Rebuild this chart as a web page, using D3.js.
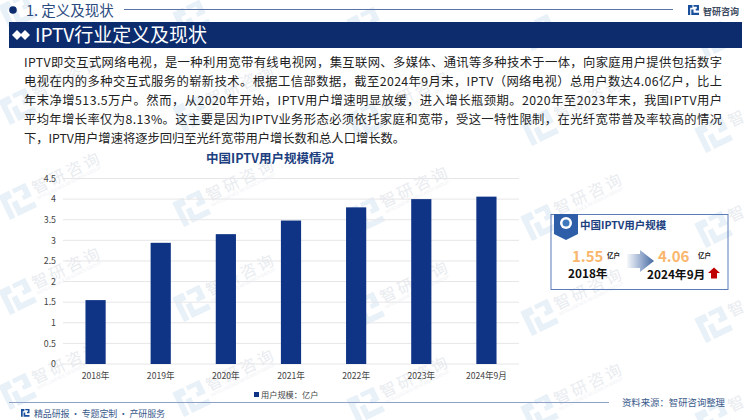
<!DOCTYPE html>
<html>
<head>
<meta charset="utf-8">
<script src="https://cdn.jsdelivr.net/npm/d3@7"></script>
<style>
  html, body { margin: 0; padding: 0; background: #fff; }
  text { font-family: "Noto Sans CJK SC", "Noto Sans", sans-serif; }
</style>
</head>
<body>
<div id="chart"></div>
<script>
const categories = ['2018年', '2019年', '2020年', '2021年', '2022年', '2023年', '2024年9月'];
const users = [1.55, 2.94, 3.15, 3.48, 3.80, 4.00, 4.06];
const yTicks = [0, 0.5, 1, 1.5, 2, 2.5, 3, 3.5, 4, 4.5];
const bodyLines = [
  'IPTV即交互式网络电视，是一种利用宽带有线电视网，集互联网、多媒体、通讯等多种技术于一体，向家庭用户提供包括数字',
  '电视在内的多种交互式服务的崭新技术。根据工信部数据，截至2024年9月末，IPTV（网络电视）总用户数达4.06亿户，比上',
  '年末净增513.5万户。然而，从2020年开始，IPTV用户增速明显放缓，进入增长瓶颈期。2020年至2023年末，我国IPTV用户',
  '平均年增长率仅为8.13%。这主要是因为IPTV业务形态必须依托家庭和宽带，受这一特性限制，在光纤宽带普及率较高的情况',
  '下，IPTV用户增速将逐步回归至光纤宽带用户增长数和总人口增长数。'
];
const bodyWidths = [698, 698, 698, 698, 381];

const navy = '#0c2c6e';
const barBlue = '#0f3485';

const svg = d3.select('#chart').append('svg')
    .attr('width', 750)
    .attr('height', 420)
    .style('display', 'block');

const defs = svg.append('defs');
const arrowGrad = defs.append('linearGradient').attr('id', 'arrowGrad');
arrowGrad.append('stop').attr('offset', '0%').attr('stop-color', '#4a6fae').attr('stop-opacity', 0.05);
arrowGrad.append('stop').attr('offset', '100%').attr('stop-color', '#44689f');

// logo mark used by header, footer and watermark
function logo(g, s, color) {
  g.append('path')
      .attr('d', `M0 0H${4*s}V${2.6*s}H${2*s}V${9*s}H0Z M${5*s} 0H${10*s}V${5*s}H${7*s}V${3.4*s}H${8*s}V${1.6*s}H${5*s}Z M${3*s} ${4*s}H${5*s}V${7*s}H${10*s}V${9*s}H${3*s}Z`)
      .attr('fill', color);
}

// watermark, repeated on a slanted grid
const wm = svg.append('g').attr('class', 'watermark');
d3.range(5).forEach(r => d3.range(5).forEach(c => {
  const w = wm.append('g')
      .attr('transform', `translate(${17 + 174 * c},${10 + 95 * r + 7 * c}) rotate(-26)`);
  logo(w.append('g').attr('transform', 'translate(-15,-12)'), 3, '#e9f1f8');
  if (r === 0) return;   // top row runs off the page, only the logo shows
  w.append('text').attr('x', 19).attr('y', 3)
      .attr('font-size', 16).attr('letter-spacing', 3).attr('fill', '#e9ecf0')
      .text(c === 4 ? '智' : '智研咨询');
  if (c < 4) {
    w.append('text').attr('x', 19).attr('y', 9)
        .attr('font-size', 4.5).attr('fill', '#eef0f3').text('INTELLIGENCE RESEARCH GROUP');
  }
}));

// header
svg.append('circle').attr('cx', 13).attr('cy', 10).attr('r', 3.8).attr('fill', navy);
svg.append('text').attr('x', 26).attr('y', 16).attr('font-size', 14.5).attr('fill', '#2a4a80').text('1. 定义及现状');
svg.append('line').attr('x1', 124).attr('x2', 673).attr('y1', 9.5).attr('y2', 9.5).attr('stroke', '#5a74a8').attr('stroke-width', 1);
logo(svg.append('g').attr('transform', 'translate(688,5)'), 1.1, '#1a4f9c');
svg.append('text').attr('x', 703).attr('y', 14.5).attr('font-size', 9).attr('font-weight', 700).attr('fill', '#3c4a60').text('智研咨询');

// title band
svg.append('rect').attr('x', 9).attr('y', 22).attr('width', 733).attr('height', 26).attr('fill', navy);
svg.append('path').attr('d', 'M12 35l5-5 5 5-5 5Z').attr('fill', '#fff');
svg.append('path').attr('d', 'M20 35l5-5 5 5-5 5Z').attr('fill', '#fff');
svg.append('text').attr('x', 35).attr('y', 42).attr('font-size', 19).attr('textLength', 172).attr('fill', '#fff').text('IPTV行业定义及现状');

// body text
svg.append('g').selectAll('text')
  .data(bodyLines)
  .join('text')
    .attr('x', 24)
    .attr('y', (d, i) => 67 + i * 18.9)
    .attr('font-size', 12.3)
    .attr('fill', '#222')
    .attr('textLength', (d, i) => bodyWidths[i])
    .text(d => d);

// chart title
svg.append('text').attr('x', 270).attr('y', 163).attr('text-anchor', 'middle')
    .attr('font-size', 12.5).attr('font-weight', 700).attr('fill', '#1d3f7f').text('中国IPTV用户规模情况');

// bar chart
const x = d3.scaleBand().domain(categories).range([63, 519]).paddingInner(0.69).paddingOuter(0.345);
const y = d3.scaleLinear().domain([0, 4.5]).range([364, 178.5]);

const yAxis = svg.append('g')
    .attr('transform', 'translate(63,0)')
    .call(d3.axisLeft(y).tickValues(yTicks).tickSize(0).tickPadding(7).tickFormat(d => d));
yAxis.select('.domain').remove();
yAxis.selectAll('text').attr('font-size', 8.8).attr('fill', '#444');

svg.append('g').selectAll('line')
  .data(yTicks)
  .join('line')
    .attr('x1', 63).attr('x2', 519)
    .attr('y1', d => y(d)).attr('y2', d => y(d))
    .attr('stroke', '#e6e6e8').attr('stroke-width', 1);

svg.append('g').selectAll('rect')
  .data(users)
  .join('rect')
    .attr('x', (d, i) => x(categories[i]))
    .attr('y', d => y(d))
    .attr('width', x.bandwidth())
    .attr('height', d => y(0) - y(d))
    .attr('fill', barBlue);

const xAxis = svg.append('g')
    .attr('transform', 'translate(0,364)')
    .call(d3.axisBottom(x).tickSize(0).tickPadding(9));
xAxis.select('.domain').remove();
xAxis.selectAll('text').attr('font-size', 8.6).attr('fill', '#444');

// legend
svg.append('rect').attr('x', 254).attr('y', 392).attr('width', 5).attr('height', 5).attr('fill', barBlue);
svg.append('text').attr('x', 261).attr('y', 398).attr('font-size', 8.2).attr('fill', '#444').text('用户规模：亿户');

// side panel
const panel = svg.append('g');
panel.append('rect').attr('x', 551).attr('y', 214.5).attr('width', 177).attr('height', 75)
    .attr('fill', '#fff').attr('fill-opacity', 0).attr('stroke', '#5a7cb8').attr('stroke-width', 1);
panel.append('path').attr('d', 'M554 214H578V234L566 240L554 234Z').attr('fill', '#2f5ea8');
panel.append('circle').attr('cx', 566).attr('cy', 223).attr('r', 6).attr('fill', '#fff');
panel.append('circle').attr('cx', 566).attr('cy', 223).attr('r', 3.5).attr('fill', '#3f78bd');
panel.append('text').attr('x', 580).attr('y', 229).attr('font-size', 10.5).attr('font-weight', 700).attr('fill', '#1d3f7f').text('中国IPTV用户规模');
panel.append('text').attr('x', 572).attr('y', 262).attr('font-size', 15).attr('font-weight', 700).attr('fill', '#f9b66c').text('1.55');
panel.append('text').attr('x', 607).attr('y', 258).attr('font-size', 6.5).attr('font-weight', 700).attr('fill', '#222').text('亿户');
panel.append('text').attr('x', 568).attr('y', 278).attr('font-size', 11.8).attr('font-weight', 700).attr('fill', '#111').text('2018年');
panel.append('path').attr('d', 'M627 254H640V250L654 261L640 272V268H627Z').attr('fill', 'url(#arrowGrad)');
panel.append('text').attr('x', 658).attr('y', 262).attr('font-size', 15).attr('font-weight', 700).attr('fill', '#f9b66c').text('4.06');
panel.append('text').attr('x', 698).attr('y', 258).attr('font-size', 6.5).attr('font-weight', 700).attr('fill', '#222').text('亿户');
panel.append('text').attr('x', 647).attr('y', 279).attr('font-size', 11.8).attr('font-weight', 700).attr('fill', '#111').text('2024年9月');
panel.append('path').attr('d', 'M714 267.5L720 273H717V278.5H711V273H708Z').attr('fill', '#c00000');

// footer
svg.append('line').attr('x1', 9).attr('x2', 609).attr('y1', 402.5).attr('y2', 402.5).attr('stroke', '#8ea2c8').attr('stroke-width', 1.2);
logo(svg.append('g').attr('transform', 'translate(21,409)'), 0.85, '#1a4f9c');
svg.append('text').attr('x', 34).attr('y', 417).attr('font-size', 9).attr('textLength', 131).attr('fill', '#3a5a8c').text('精品研报 · 专题定制 · 产研服务');
svg.append('text').attr('x', 622).attr('y', 406).attr('font-size', 9.4).attr('textLength', 103).attr('fill', '#3a5a8c').text('资料来源：智研咨询整理');
</script>
</body>
</html>
